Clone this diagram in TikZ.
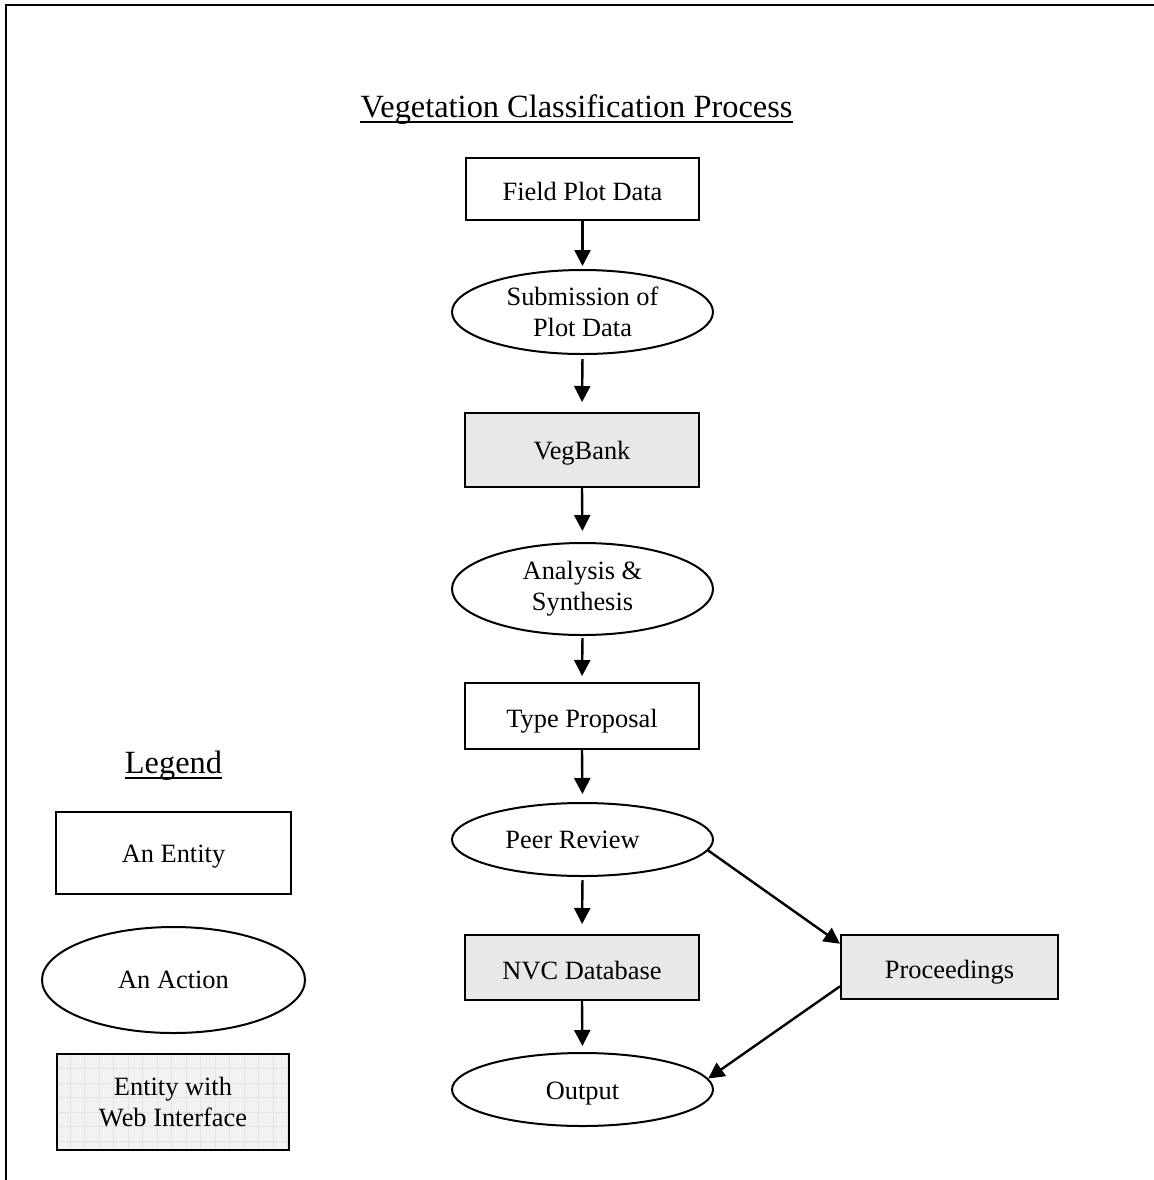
\documentclass[tikz,border=0pt]{standalone}
\usepackage{fontspec}
\setmainfont{Liberation Serif}
\usetikzlibrary{arrows.meta,shapes.geometric}
\begin{document}
\begin{tikzpicture}[x=0.5pt,y=-0.5pt,
  every node/.style={font=\fontsize{13.2}{15.5}\selectfont, inner sep=0pt, align=center},
  entity/.style={draw, line width=1pt, rectangle, text height=11.5pt, text depth=0pt},
  webentity/.style={entity, fill=gray!18},
  action/.style={draw, line width=1pt, ellipse},
  arr/.style={line width=1.2pt, -{Triangle[length=8pt,width=8pt]}},
  framestyle/.style={line width=1pt},
  titlefont/.style={font=\fontsize{16.2}{19}\selectfont}]
\useasboundingbox (0,0) rectangle (1154,1180);
% frame
\coordinate (ftr) at (1154,5);
\coordinate (ftl) at (6,5);
\coordinate (fbl) at (6,1180);
\draw[framestyle] (ftr) -- (ftl) -- (fbl);
% title
\node[titlefont, anchor=base] (title) at (576.5,117) {Vegetation Classification Process};
\draw[line width=0.9pt] ([yshift=-2.5pt]title.base west) -- ([yshift=-2.5pt]title.base east);
% main flow
\node[entity, minimum width=116.5pt, minimum height=31pt] (fpd) at (582.5,189) {Field Plot Data};
\node[action, minimum width=130.5pt, minimum height=42pt] (sub) at (582.5,312) {Submission of\\Plot Data};
\node[webentity, minimum width=117pt, minimum height=37pt, text height=9pt] (vb) at (582,450) {VegBank};
\node[action, minimum width=130.5pt, minimum height=46pt] (ana) at (582.5,589) {Analysis \&\\Synthesis};
\node[entity, minimum width=117pt, minimum height=33pt] (tp) at (582,716) {Type Proposal};
\node[action, minimum width=130.5pt, minimum height=36.5pt] (pr) at (582.5,839.5) {Peer Review\hspace*{10pt}};
\node[webentity, minimum width=117pt, minimum height=32.5pt] (nvc) at (582,967.5) {NVC Database};
\node[action, minimum width=130.5pt, minimum height=36.5pt, text height=10pt, text depth=0pt] (out) at (582.5,1089.5) {Output};
\node[webentity, minimum width=108.5pt, minimum height=32pt] (proc) at (949.5,967) {Proceedings};
% arrows
\draw[arr, shorten >=1.5pt] (fpd.south) -- (sub.north);
\draw[arr, shorten <=2pt, shorten >=5pt] (sub.south) -- (vb.north);
\draw[arr, shorten >=5.5pt] (vb.south) -- (ana.north);
\draw[arr, shorten <=1pt, shorten >=3pt] (ana.south) -- (tp.north);
\draw[arr, shorten >=4pt] (tp.south) -- (pr.north);
\draw[arr, shorten <=1.5pt, shorten >=5pt] (pr.south) -- (nvc.north);
\draw[arr, shorten >=3pt] (nvc.south) -- (out.north);
\draw[arr] (pr.-5) -- (proc.168);
\draw[arr] (proc.190) -- (out.5);
% legend
\node[titlefont, anchor=base] (legend) at (173.5,773) {Legend};
\draw[line width=0.9pt] ([yshift=-2.5pt]legend.base west) -- ([yshift=-2.5pt]legend.base east);
\node[entity, minimum width=117.5pt, minimum height=41pt, text height=9pt] (lent) at (173.5,853) {An Entity};
\node[action, minimum width=131.5pt, minimum height=53pt] (lact) at (173.5,980) {An Action};
\node[draw, line width=1pt, fill=gray!10, minimum width=116pt, minimum height=48pt,
  path picture={\draw[gray!22, line width=0.3pt, step=7.25pt] (path picture bounding box.south west) grid (path picture bounding box.north east);}]
  (lweb) at (173,1102) {Entity with\\Web Interface};
\end{tikzpicture}
\end{document}
